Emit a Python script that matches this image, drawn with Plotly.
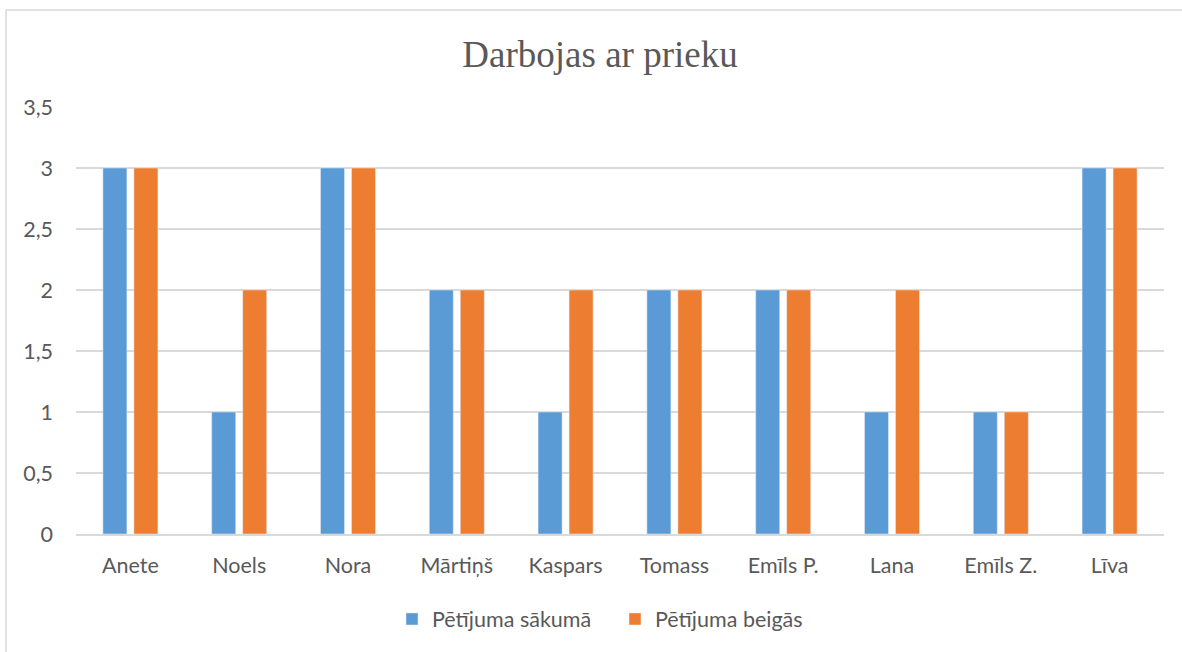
import plotly.graph_objects as go

categories = ["Anete", "Noels", "Nora", "Mārtiņš", "Kaspars", "Tomass", "Emīls P.", "Lana", "Emīls Z.", "Līva"]
start_values = [3, 1, 3, 2, 1, 2, 2, 1, 1, 3]
end_values = [3, 2, 3, 2, 2, 2, 2, 2, 1, 3]
series_names = ["Pētījuma sākumā", "Pētījuma beigās"]
y_ticks = [0, 0.5, 1, 1.5, 2, 2.5, 3, 3.5]

W, H = 1182, 652
L, R, T, B = 76, 18, 107, 118
pw, ph = W - L - R, H - T - B

fig = go.Figure()
fig.add_trace(go.Bar(x=categories, y=start_values, name=series_names[0], marker_color="#5B9BD5"))
fig.add_trace(go.Bar(x=categories, y=end_values, name=series_names[1], marker_color="#ED7D31"))

txt = "#595959"
fs = 21.5
fig.update_layout(
    width=W, height=H,
    margin=dict(l=L, r=R, t=T, b=B, autoexpand=False),
    paper_bgcolor="white", plot_bgcolor="white",
    separators=", ",
    barmode="group", bargap=0.43, bargroupgap=0.226,
    title=dict(text="Darbojas ar prieku", x=600 / W, xanchor="center", y=1 - 54 / H, yanchor="middle",
               font=dict(family="Liberation Serif", size=37, color=txt)),
    font=dict(family="Lato", size=fs, color=txt),
    showlegend=True,
    legend=dict(orientation="h", x=(615 - L) / pw, xanchor="center", y=(534 - 619) / ph, yanchor="middle",
                font=dict(family="Lato", size=fs, color=txt), traceorder="normal",
                entrywidth=178, entrywidthmode="pixels"),
    xaxis=dict(showgrid=False, showline=True, linecolor="#D9D9D9", linewidth=1.5, ticks="",
               tickfont=dict(family="Lato", size=fs, color=txt), ticklabelstandoff=11),
    yaxis=dict(range=[0, 3.5], tickvals=y_ticks, showgrid=True, gridcolor="#D9D9D9", gridwidth=1.5,
               zeroline=False, showline=False, ticks="",
               tickfont=dict(family="Lato", size=fs, color=txt), ticklabelstandoff=22),
    shapes=[
        dict(type="line", xref="paper", yref="paper", x0=(6 - L) / pw, x1=(1200 - L) / pw,
             y0=(534 - 10) / ph, y1=(534 - 10) / ph, line=dict(color="#D9D9D9", width=1.5)),
        dict(type="line", xref="paper", yref="paper", x0=(6 - L) / pw, x1=(6 - L) / pw,
             y0=(534 - 10) / ph, y1=(534 - 670) / ph, line=dict(color="#D9D9D9", width=1.5)),
    ],
)

fig.write_html("out.html", config={"displayModeBar": False},
               post_script="document.body.style.margin='0';document.body.style.overflow='hidden';")
